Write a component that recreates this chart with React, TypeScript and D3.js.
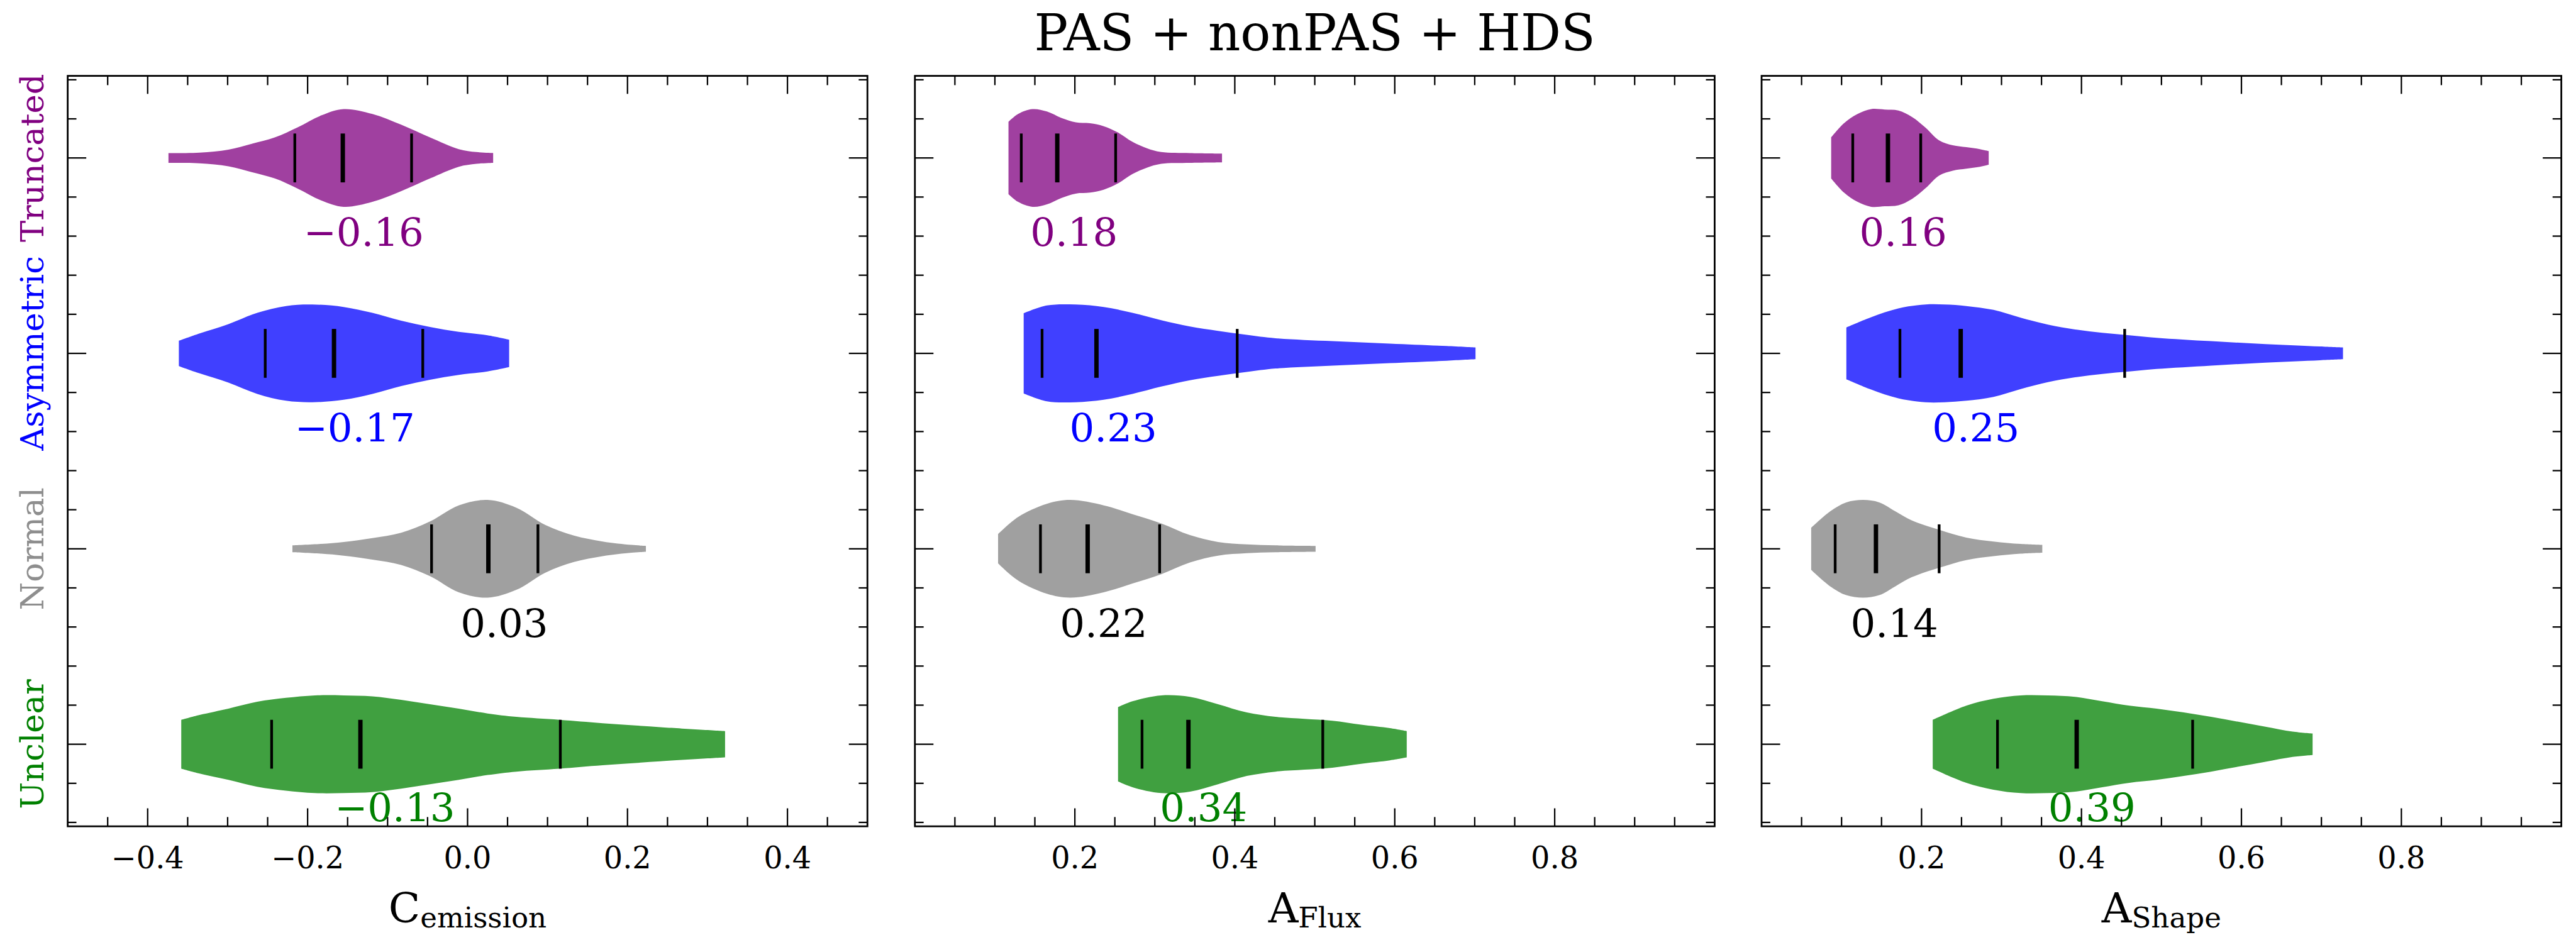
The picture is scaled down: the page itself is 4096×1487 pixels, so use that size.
import React, { useEffect } from "react";
import * as d3 from "d3";

// ---------------------------------------------------------------------------
// Data
// ---------------------------------------------------------------------------

// Rows from bottom (0) to top (3)
const categories = ["Unclear", "Normal", "Asymmetric", "Truncated"];
const violinColors = ["green", "gray", "blue", "purple"];
const categoryLabelColors = ["#008000", "#8e8e8e", "#0000ff", "#800080"];
const valueLabelColors = ["#008000", "#000000", "#0000ff", "#800080"];

const title = "PAS + nonPAS + HDS";

// Kernel density profiles: [value, density relative to the violin's peak]
const cEmissionUnclear: [number, number][] = [
  [-0.358, 0.5], [-0.335, 0.6], [-0.299, 0.73], [-0.263, 0.87], [-0.227, 0.95],
  [-0.191, 1.0], [-0.155, 1.0], [-0.119, 0.98], [-0.083, 0.91], [-0.047, 0.82],
  [-0.011, 0.73], [0.025, 0.63], [0.061, 0.56], [0.115, 0.5], [0.169, 0.43],
  [0.241, 0.35], [0.322, 0.27],
];
const cEmissionNormal: [number, number][] = [
  [-0.219, 0.07], [-0.183, 0.1], [-0.155, 0.14], [-0.119, 0.22], [-0.083, 0.33],
  [-0.047, 0.56], [-0.011, 0.89], [0.025, 1.0], [0.061, 0.84], [0.097, 0.49],
  [0.133, 0.27], [0.169, 0.15], [0.205, 0.08], [0.223, 0.06],
];
const cEmissionAsymmetric: [number, number][] = [
  [-0.361, 0.26], [-0.335, 0.41], [-0.299, 0.6], [-0.263, 0.83], [-0.227, 0.97],
  [-0.194, 1.0], [-0.155, 0.95], [-0.119, 0.83], [-0.083, 0.67], [-0.047, 0.54],
  [-0.011, 0.44], [0.025, 0.37], [0.052, 0.28],
];
const cEmissionTruncated: [number, number][] = [
  [-0.374, 0.1], [-0.335, 0.11], [-0.299, 0.17], [-0.27, 0.29], [-0.241, 0.42],
  [-0.212, 0.63], [-0.183, 0.87], [-0.155, 1.0], [-0.119, 0.9], [-0.083, 0.68],
  [-0.047, 0.42], [-0.011, 0.18], [0.011, 0.12], [0.032, 0.1],
];

const aFluxUnclear: [number, number][] = [
  [0.254, 0.76], [0.272, 0.88], [0.308, 1.0], [0.344, 0.97], [0.379, 0.82],
  [0.415, 0.65], [0.451, 0.56], [0.487, 0.52], [0.522, 0.48], [0.558, 0.4],
  [0.594, 0.33], [0.615, 0.27],
];
const aFluxNormal: [number, number][] = [
  [0.104, 0.3], [0.129, 0.65], [0.165, 0.92], [0.194, 1.0], [0.236, 0.89],
  [0.272, 0.71], [0.308, 0.52], [0.344, 0.28], [0.379, 0.14], [0.415, 0.09],
  [0.451, 0.07], [0.501, 0.06],
];
const aFluxAsymmetric: [number, number][] = [
  [0.136, 0.82], [0.165, 0.98], [0.201, 1.0], [0.236, 0.95], [0.272, 0.83],
  [0.308, 0.68], [0.344, 0.55], [0.379, 0.46], [0.415, 0.38], [0.451, 0.31],
  [0.522, 0.25], [0.594, 0.2], [0.665, 0.15], [0.701, 0.12],
];
const aFluxTruncated: [number, number][] = [
  [0.117, 0.74], [0.129, 0.9], [0.147, 1.0], [0.165, 0.95], [0.183, 0.82],
  [0.201, 0.73], [0.219, 0.71], [0.236, 0.65], [0.254, 0.52], [0.272, 0.33],
  [0.29, 0.2], [0.308, 0.12], [0.344, 0.1], [0.384, 0.09],
];

const aShapeUnclear: [number, number][] = [
  [0.214, 0.5], [0.256, 0.79], [0.29, 0.93], [0.324, 1.0], [0.358, 1.0],
  [0.392, 0.97], [0.426, 0.88], [0.46, 0.79], [0.494, 0.73], [0.528, 0.65],
  [0.562, 0.56], [0.596, 0.46], [0.63, 0.36], [0.664, 0.26], [0.689, 0.22],
];
const aShapeNormal: [number, number][] = [
  [0.062, 0.43], [0.086, 0.77], [0.106, 0.95], [0.127, 1.0], [0.147, 0.95],
  [0.167, 0.77], [0.188, 0.58], [0.222, 0.39], [0.256, 0.23], [0.29, 0.15],
  [0.324, 0.1], [0.351, 0.08],
];
const aShapeAsymmetric: [number, number][] = [
  [0.106, 0.53], [0.137, 0.74], [0.171, 0.92], [0.205, 1.0], [0.229, 1.0],
  [0.256, 0.97], [0.29, 0.89], [0.324, 0.73], [0.358, 0.59], [0.392, 0.49],
  [0.426, 0.42], [0.46, 0.37], [0.494, 0.32], [0.562, 0.25], [0.63, 0.19],
  [0.698, 0.14], [0.727, 0.12],
];
const aShapeTruncated: [number, number][] = [
  [0.087, 0.42], [0.103, 0.71], [0.12, 0.9], [0.137, 1.0], [0.154, 0.99],
  [0.171, 0.97], [0.188, 0.84], [0.205, 0.62], [0.222, 0.36], [0.239, 0.26],
  [0.256, 0.22], [0.273, 0.18], [0.284, 0.14],
];

// Quartiles [Q1, median, Q3] per row (Unclear, Normal, Asymmetric, Truncated)
const cEmissionQuartiles = [
  [-0.245, -0.134, 0.116], [-0.045, 0.026, 0.088], [-0.253, -0.167, -0.056], [-0.216, -0.156, -0.07],
];
const aFluxQuartiles = [
  [0.284, 0.342, 0.51], [0.157, 0.216, 0.306], [0.159, 0.227, 0.403], [0.133, 0.178, 0.251],
];
const aShapeQuartiles = [
  [0.295, 0.394, 0.539], [0.092, 0.143, 0.222], [0.173, 0.249, 0.454], [0.114, 0.158, 0.199],
];

// Means per row; the median annotation is centred on them
const cEmissionMeans = [-0.091, 0.046, -0.141, -0.13];
const aFluxMeans = [0.361, 0.236, 0.248, 0.199];
const aShapeMeans = [0.413, 0.166, 0.268, 0.177];

// Axis names (symbol + subscript), limits and labelled ticks
const axisSymbols = ["C", "A", "A"];
const axisSubscripts = ["emission", "Flux", "Shape"];
const axisDomains: [number, number][] = [[-0.5, 0.5], [0, 1], [0, 1]];
const axisTicks = [
  [-0.4, -0.2, 0.0, 0.2, 0.4],
  [0.2, 0.4, 0.6, 0.8],
  [0.2, 0.4, 0.6, 0.8],
];

const profiles = [
  [cEmissionUnclear, cEmissionNormal, cEmissionAsymmetric, cEmissionTruncated],
  [aFluxUnclear, aFluxNormal, aFluxAsymmetric, aFluxTruncated],
  [aShapeUnclear, aShapeNormal, aShapeAsymmetric, aShapeTruncated],
];
const quartiles = [cEmissionQuartiles, aFluxQuartiles, aShapeQuartiles];
const means = [cEmissionMeans, aFluxMeans, aShapeMeans];

// ---------------------------------------------------------------------------
// Layout (drawn in a 4717 x 1713 frame, then scaled to the window)
// ---------------------------------------------------------------------------
const FRAME_W = 4717;
const FRAME_H = 1713;
const S = 0.868;

const panelLeft = [124, 1676, 3227];
const panelWidth = 1465;
const plotTop = 139;
const plotBottom = 1514;
const yDomain: [number, number] = [-0.42, 3.42];
const violinHalfWidth = 0.25; // in row units
const quartileHalfLength = 0.125;
const labelDrop = [0.395, 0.45, 0.45, 0.45];

const FONT = "'DejaVu Serif', serif";

const fmtTick = d3.format(".1f");
const fmtValue = d3.format(".2f");

const y = d3.scaleLinear().domain(yDomain).range([plotBottom, plotTop]);
const unitPx = y(0) - y(1);

function Panel({ idx }: { idx: number }) {
  const x = d3
    .scaleLinear()
    .domain(axisDomains[idx])
    .range([panelLeft[idx], panelLeft[idx] + panelWidth]);
  const [d0, d1] = axisDomains[idx];
  const left = panelLeft[idx];
  const right = left + panelWidth;

  // x ticks every 0.05, long ones at multiples of 0.2
  const xTickVals = d3
    .range(Math.round(d0 / 0.05), Math.round(d1 / 0.05) + 1)
    .map((k) => k * 0.05)
    .filter((v) => v > d0 + 1e-6 && v < d1 - 1e-6);
  const isMajorX = (v: number) => Math.abs(v / 0.2 - Math.round(v / 0.2)) < 1e-6;

  // y ticks every 0.2, long ones on the rows
  const yTickVals = d3
    .range(Math.ceil(yDomain[0] / 0.2), Math.floor(yDomain[1] / 0.2) + 1)
    .map((k) => k * 0.2);
  const isMajorY = (v: number) => Math.abs(v - Math.round(v)) < 1e-6;

  const area = d3
    .area<[number, number]>()
    .x((d) => x(d[0]))
    .curve(d3.curveCatmullRom.alpha(0.5));

  const majorLen = 33;
  const minorLen = 17;

  return (
    <g>
      {/* violins */}
      {profiles[idx].map((prof, row) => {
        const yc = y(row);
        const path = area
          .y0((d) => yc - d[1] * violinHalfWidth * unitPx)
          .y1((d) => yc + d[1] * violinHalfWidth * unitPx)(prof);
        return (
          <path
            key={"v" + row}
            d={path || ""}
            fill={violinColors[row]}
            fillOpacity={0.75}
            stroke="none"
          />
        );
      })}
      {/* quartile lines */}
      {quartiles[idx].map((qs, row) =>
        qs.map((q, k) => (
          <line
            key={"q" + row + "-" + k}
            x1={x(q)}
            x2={x(q)}
            y1={y(row + quartileHalfLength)}
            y2={y(row - quartileHalfLength)}
            stroke="#000"
            strokeWidth={k === 1 ? 8 : 5}
          />
        ))
      )}
      {/* median annotations */}
      {quartiles[idx].map((qs, row) => (
        <text
          key={"t" + row}
          x={x(means[idx][row])}
          y={y(row - labelDrop[row])}
          textAnchor="middle"
          fontFamily={FONT}
          fontSize={72}
          fill={valueLabelColors[row]}
        >
          {fmtValue(qs[1])}
        </text>
      ))}
      {/* x ticks, top and bottom, pointing inward */}
      {xTickVals.map((v) => {
        const len = isMajorX(v) ? majorLen : minorLen;
        return (
          <g key={"xt" + v.toFixed(3)}>
            <line x1={x(v)} x2={x(v)} y1={plotBottom} y2={plotBottom - len} stroke="#000" strokeWidth={2.6} />
            <line x1={x(v)} x2={x(v)} y1={plotTop} y2={plotTop + len} stroke="#000" strokeWidth={2.6} />
          </g>
        );
      })}
      {/* y ticks, left and right, pointing inward */}
      {yTickVals.map((v) => {
        const len = isMajorY(v) ? 34 : 16;
        return (
          <g key={"yt" + v.toFixed(2)}>
            <line x1={left} x2={left + len} y1={y(v)} y2={y(v)} stroke="#000" strokeWidth={2.6} />
            <line x1={right} x2={right - len} y1={y(v)} y2={y(v)} stroke="#000" strokeWidth={2.6} />
          </g>
        );
      })}
      {/* frame */}
      <rect
        x={left}
        y={plotTop}
        width={panelWidth}
        height={plotBottom - plotTop}
        fill="none"
        stroke="#000"
        strokeWidth={3.2}
      />
      {/* tick labels */}
      {axisTicks[idx].map((v) => (
        <text
          key={"xl" + v}
          x={x(v)}
          y={plotBottom + 77}
          textAnchor="middle"
          fontFamily={FONT}
          fontSize={55}
          fill="#000"
        >
          {fmtTick(v)}
        </text>
      ))}
      {/* axis name */}
      <text
        x={(left + right) / 2}
        y={1690}
        textAnchor="middle"
        fontFamily={FONT}
        fontSize={76}
        fill="#000"
      >
        {axisSymbols[idx]}
        <tspan fontSize={52} dy={9}>
          {axisSubscripts[idx]}
        </tspan>
      </text>
    </g>
  );
}

export default function App() {
  useEffect(() => {
    document.body.style.margin = "0";
    document.body.style.overflow = "hidden";
  }, []);

  return (
    <svg
      width={Math.round(FRAME_W * S)}
      height={Math.round(FRAME_H * S)}
      style={{ display: "block", background: "#fff" }}
    >
      <rect width="100%" height="100%" fill="#fff" />
      <g transform={`scale(${S})`}>
        <text
          x={panelLeft[1] + panelWidth / 2}
          y={92}
          textAnchor="middle"
          fontFamily={FONT}
          fontSize={92}
          fill="#000"
        >
          {title}
        </text>
        {/* row names, rotated, left of the first panel */}
        {categories.map((c, row) => (
          <text
            key={c}
            transform={`translate(79, ${y(row)}) rotate(-90)`}
            textAnchor="middle"
            fontFamily={FONT}
            fontSize={59}
            fill={categoryLabelColors[row]}
          >
            {c}
          </text>
        ))}
        {[0, 1, 2].map((i) => (
          <Panel key={i} idx={i} />
        ))}
      </g>
    </svg>
  );
}
